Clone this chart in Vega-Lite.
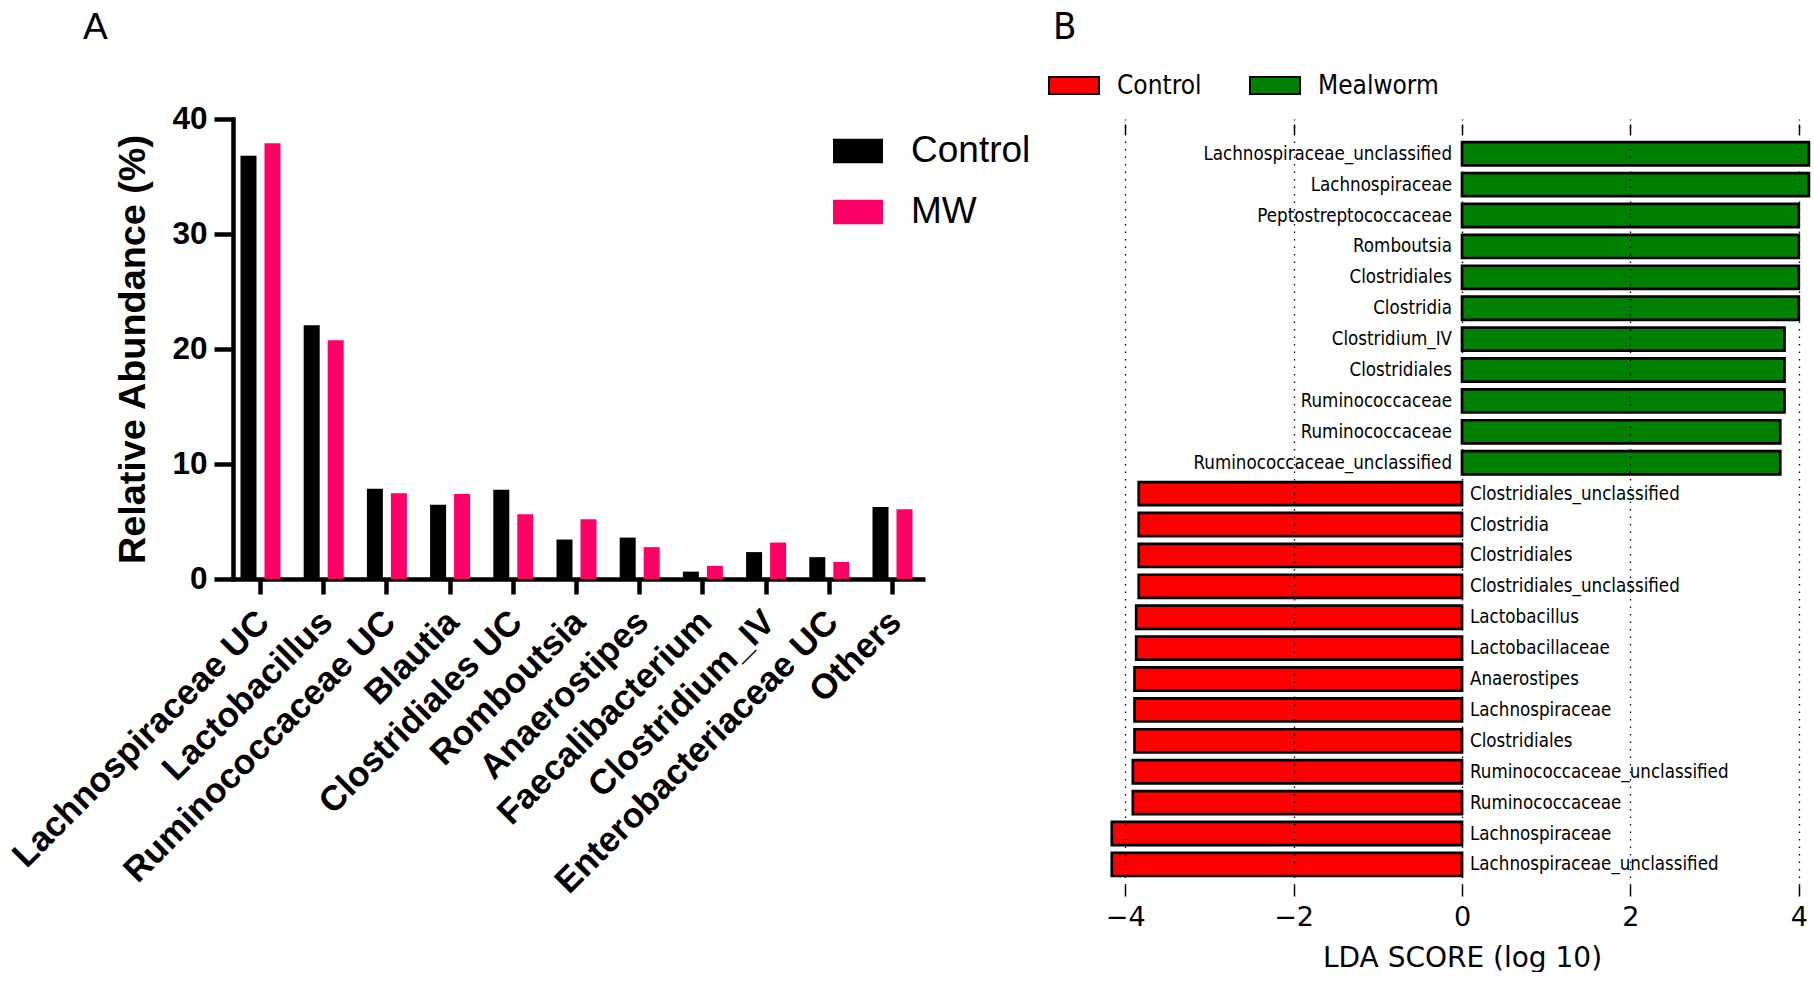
{
  "$schema": "https://vega.github.io/schema/vega-lite/v6.json",
  "background": "white",
  "padding": {"left": 6, "top": 8, "right": 0, "bottom": 0},
  "bounds": "flush",
  "spacing": 175,
  "resolve": {"scale": {"color": "independent"}},
  "config": {"view": {"stroke": null}},
  "hconcat": [
    {
      "width": 692,
      "height": 460,
      "title": {"text": "A", "anchor": "start", "frame": "group", "font": "Liberation Sans", "fontSize": 37, "fontWeight": "normal", "color": "black", "baseline": "alphabetic", "dx": -150, "offset": 27},
      "data": {
        "values": [
          {"taxon": "Lachnospiraceae UC", "group": "Control", "abundance": 36.8},
          {"taxon": "Lachnospiraceae UC", "group": "MW", "abundance": 37.9},
          {"taxon": "Lactobacillus", "group": "Control", "abundance": 22.06},
          {"taxon": "Lactobacillus", "group": "MW", "abundance": 20.76},
          {"taxon": "Ruminococcaceae UC", "group": "Control", "abundance": 7.85},
          {"taxon": "Ruminococcaceae UC", "group": "MW", "abundance": 7.45},
          {"taxon": "Blautia", "group": "Control", "abundance": 6.46},
          {"taxon": "Blautia", "group": "MW", "abundance": 7.39},
          {"taxon": "Clostridiales UC", "group": "Control", "abundance": 7.76},
          {"taxon": "Clostridiales UC", "group": "MW", "abundance": 5.63},
          {"taxon": "Romboutsia", "group": "Control", "abundance": 3.43},
          {"taxon": "Romboutsia", "group": "MW", "abundance": 5.2},
          {"taxon": "Anaerostipes", "group": "Control", "abundance": 3.6},
          {"taxon": "Anaerostipes", "group": "MW", "abundance": 2.77},
          {"taxon": "Faecalibacterium", "group": "Control", "abundance": 0.64},
          {"taxon": "Faecalibacterium", "group": "MW", "abundance": 1.14},
          {"taxon": "Clostridium_IV", "group": "Control", "abundance": 2.34},
          {"taxon": "Clostridium_IV", "group": "MW", "abundance": 3.17},
          {"taxon": "Enterobacteriaceae UC", "group": "Control", "abundance": 1.9},
          {"taxon": "Enterobacteriaceae UC", "group": "MW", "abundance": 1.48},
          {"taxon": "Others", "group": "Control", "abundance": 6.26},
          {"taxon": "Others", "group": "MW", "abundance": 6.06}
        ]
      },
      "mark": {"type": "bar"},
      "encoding": {
        "x": {
          "field": "taxon", "type": "nominal", "sort": null,
          "scale": {"paddingInner": 0.367, "paddingOuter": 0.158, "align": 0.375},
          "axis": {
            "title": null, "labelAngle": -45, "labelAlign": "right", "labelBaseline": "top",
            "labelFont": "Liberation Sans", "labelFontWeight": "bold", "labelFontSize": 35, "labelColor": "black",
            "labelPadding": 10, "labelOffset": -9, "labelLimit": 0, "labelOverlap": false,
            "tickSize": 15, "tickWidth": 4.5, "tickColor": "black",
            "domainColor": "black", "domainWidth": 4.5, "grid": false
          }
        },
        "xOffset": {"field": "group", "sort": ["Control", "MW"], "scale": {"paddingInner": 0.333, "paddingOuter": 0}},
        "y": {
          "field": "abundance", "type": "quantitative",
          "scale": {"domain": [0, 40], "nice": false},
          "axis": {
            "title": "Relative Abundance (%)", "titleFont": "Liberation Sans", "titleFontSize": 37.8, "titleFontWeight": "bold", "titleColor": "black", "titlePadding": 19,
            "values": [0, 10, 20, 30, 40],
            "labelFont": "Liberation Sans", "labelFontWeight": "bold", "labelFontSize": 31.5, "labelColor": "black", "labelPadding": 7,
            "tickSize": 19, "tickWidth": 4.5, "tickColor": "black",
            "domainColor": "black", "domainWidth": 4.5, "domainCap": "square", "grid": false
          }
        },
        "color": {
          "field": "group", "type": "nominal",
          "scale": {"domain": ["Control", "MW"], "range": ["#000000", "#FF0066"]},
          "legend": {
            "orient": "none", "legendX": 600, "legendY": 7, "title": null, "padding": 0,
            "symbolType": "M-1,-0.49H1V0.49H-1Z", "symbolSize": 2500, "symbolStrokeWidth": 0, "symbolOpacity": 1,
            "labelFont": "Liberation Sans", "labelFontSize": 37, "labelColor": "black", "labelOffset": 28, "rowPadding": 18
          }
        }
      }
    },
    {
      "width": 711,
      "height": 766,
      "title": {"text": "B", "anchor": "start", "frame": "group", "font": "DejaVu Sans Condensed, DejaVu Sans", "fontSize": 38, "fontWeight": "normal", "color": "black", "baseline": "alphabetic", "dx": -47, "offset": -17},
      "data": {
        "values": [
          {"rank": 1, "taxon": "Lachnospiraceae_unclassified", "group": "Mealworm", "lda": 4.12},
          {"rank": 2, "taxon": "Lachnospiraceae", "group": "Mealworm", "lda": 4.12},
          {"rank": 3, "taxon": "Peptostreptococcaceae", "group": "Mealworm", "lda": 4.0},
          {"rank": 4, "taxon": "Romboutsia", "group": "Mealworm", "lda": 4.0},
          {"rank": 5, "taxon": "Clostridiales", "group": "Mealworm", "lda": 4.0},
          {"rank": 6, "taxon": "Clostridia", "group": "Mealworm", "lda": 4.0},
          {"rank": 7, "taxon": "Clostridium_IV", "group": "Mealworm", "lda": 3.83},
          {"rank": 8, "taxon": "Clostridiales", "group": "Mealworm", "lda": 3.83},
          {"rank": 9, "taxon": "Ruminococcaceae", "group": "Mealworm", "lda": 3.83},
          {"rank": 10, "taxon": "Ruminococcaceae", "group": "Mealworm", "lda": 3.78},
          {"rank": 11, "taxon": "Ruminococcaceae_unclassified", "group": "Mealworm", "lda": 3.78},
          {"rank": 12, "taxon": "Clostridiales_unclassified", "group": "Control", "lda": -3.84},
          {"rank": 13, "taxon": "Clostridia", "group": "Control", "lda": -3.84},
          {"rank": 14, "taxon": "Clostridiales", "group": "Control", "lda": -3.84},
          {"rank": 15, "taxon": "Clostridiales_unclassified", "group": "Control", "lda": -3.84},
          {"rank": 16, "taxon": "Lactobacillus", "group": "Control", "lda": -3.87},
          {"rank": 17, "taxon": "Lactobacillaceae", "group": "Control", "lda": -3.87},
          {"rank": 18, "taxon": "Anaerostipes", "group": "Control", "lda": -3.89},
          {"rank": 19, "taxon": "Lachnospiraceae", "group": "Control", "lda": -3.89},
          {"rank": 20, "taxon": "Clostridiales", "group": "Control", "lda": -3.89},
          {"rank": 21, "taxon": "Ruminococcaceae_unclassified", "group": "Control", "lda": -3.91},
          {"rank": 22, "taxon": "Ruminococcaceae", "group": "Control", "lda": -3.91},
          {"rank": 23, "taxon": "Lachnospiraceae", "group": "Control", "lda": -4.16},
          {"rank": 24, "taxon": "Lachnospiraceae_unclassified", "group": "Control", "lda": -4.16}
        ]
      },
      "layer": [
        {
          "mark": {"type": "bar", "stroke": "black", "strokeWidth": 2.7},
          "encoding": {
            "y": {"field": "rank", "type": "ordinal", "scale": {"paddingInner": 0.25, "paddingOuter": 0.52, "align": 0.72}, "axis": null},
            "x": {
              "field": "lda", "type": "quantitative",
              "scale": {"domain": [-4.3, 4.145], "nice": false, "zero": false},
              "axis": {
                "orient": "bottom", "values": [-4, -2, 0, 2, 4], "zindex": 1,
                "title": "LDA SCORE (log 10)", "titleFont": "DejaVu Sans", "titleFontSize": 28, "titleFontWeight": "normal", "titleColor": "black", "titlePadding": 14, "titleX": 362,
                "labelFont": "DejaVu Sans", "labelFontSize": 27, "labelColor": "black", "labelPadding": 8,
                "tickSize": 11, "tickWidth": 1.5, "tickColor": "black",
                "domain": false,
                "grid": true, "gridColor": "black", "gridDash": [1.5, 6], "gridWidth": 1.3, "gridOpacity": 1
              }
            },
            "color": {
              "field": "group", "type": "nominal",
              "scale": {"domain": ["Control", "Mealworm"], "range": ["#FF0000", "#008000"]},
              "legend": {
                "orient": "none", "legendX": -52, "legendY": -59.5, "direction": "horizontal", "title": null, "padding": 0,
                "symbolType": "M-1,-0.34H1V0.34H-1Z", "symbolSize": 2500, "symbolStrokeColor": "black", "symbolStrokeWidth": 2, "symbolOpacity": 1,
                "labelFont": "DejaVu Sans Condensed, DejaVu Sans", "labelFontSize": 26, "labelColor": "black", "labelOffset": 17, "columnPadding": 44
              }
            }
          }
        },
        {
          "mark": {
            "type": "text", "font": "DejaVu Sans Condensed, DejaVu Sans", "fontSize": 18.6, "color": "black", "baseline": "middle",
            "align": {"expr": "datum.lda > 0 ? 'right' : 'left'"},
            "dx": {"expr": "datum.lda > 0 ? -10 : 8"}
          },
          "encoding": {
            "y": {"field": "rank", "type": "ordinal"},
            "x": {
              "datum": 0, "type": "quantitative",
              "axis": {"orient": "top", "offset": -15, "values": [-4, -2, 0, 2, 4], "labels": false, "title": null, "domain": false, "grid": false, "tickSize": 10, "tickWidth": 1.5, "tickColor": "black"}
            },
            "text": {"field": "taxon"}
          }
        }
      ]
    }
  ]
}
